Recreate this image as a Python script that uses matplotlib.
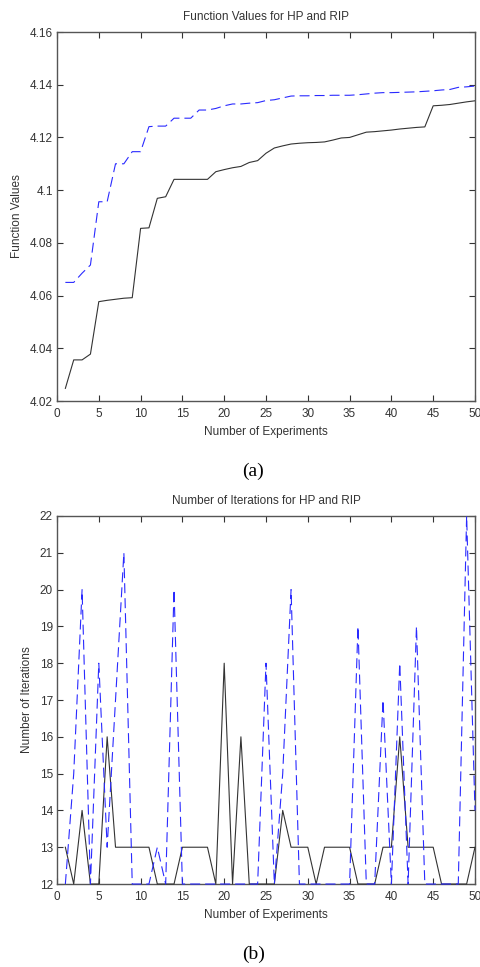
import numpy as np
import matplotlib
matplotlib.use("Agg")
import matplotlib.pyplot as plt
from matplotlib.ticker import FuncFormatter

#1. Data
experiments = np.arange(1, 51)

# (a) function values
hp_values = [4.0248, 4.0356, 4.0356, 4.0378, 4.0577, 4.0582, 4.0586, 4.0590, 4.0592, 4.0855,
             4.0857, 4.0969, 4.0975, 4.1041, 4.1041, 4.1041, 4.1041, 4.1041, 4.1070, 4.1078,
             4.1085, 4.1090, 4.1105, 4.1112, 4.1140, 4.1160, 4.1168, 4.1175, 4.1178, 4.1180,
             4.1181, 4.1183, 4.1190, 4.1198, 4.1200, 4.1210, 4.1220, 4.1222, 4.1225, 4.1228,
             4.1232, 4.1235, 4.1238, 4.1240, 4.1320, 4.1322, 4.1325, 4.1330, 4.1335, 4.1339]
rip_values = [4.0650, 4.0650, 4.0685, 4.0716, 4.0956, 4.0956, 4.1100, 4.1100, 4.1146, 4.1146,
              4.1241, 4.1243, 4.1243, 4.1273, 4.1273, 4.1273, 4.1304, 4.1304, 4.1310, 4.1320,
              4.1327, 4.1327, 4.1330, 4.1332, 4.1340, 4.1343, 4.1350, 4.1357, 4.1358, 4.1358,
              4.1359, 4.1359, 4.1360, 4.1360, 4.1360, 4.1362, 4.1365, 4.1368, 4.1370, 4.1370,
              4.1371, 4.1372, 4.1373, 4.1375, 4.1377, 4.1380, 4.1382, 4.1390, 4.1392, 4.1395]

# (b) number of iterations
hp_iters = [13, 12, 14, 12, 12, 16, 13, 13, 13, 13,
            13, 12, 12, 12, 13, 13, 13, 13, 12, 18,
            12, 16, 12, 12, 12, 12, 14, 13, 13, 13,
            12, 13, 13, 13, 13, 12, 12, 12, 13, 13,
            16, 13, 13, 13, 13, 12, 12, 12, 12, 13]
rip_iters = [12, 15, 20, 12, 18, 13, 17, 21, 12, 12,
             12, 13, 12, 20, 12, 12, 12, 12, 12, 12,
             12, 12, 12, 12, 18, 12, 15, 20, 12, 12,
             12, 12, 12, 12, 12, 19, 12, 12, 17, 12,
             18, 12, 19, 12, 12, 12, 12, 12, 22, 14]

titles = ["Function Values for HP and RIP", "Number of Iterations for HP and RIP"]
ylabels = ["Function Values", "Number of Iterations"]
xlabel = "Number of Experiments"
captions = ["(a)", "(b)"]

#2. Figure layout
plt.rcParams['font.family'] = ['Liberation Sans', 'DejaVu Sans']
fig = plt.figure(figsize=(4.8, 9.67), dpi=100)
ax1 = fig.add_axes([0.11875, 0.5853, 0.8708, 0.3816])
ax2 = fig.add_axes([0.11875, 0.0858, 0.8708, 0.3806])

dash = (0, (9, 4.5))
hp_color = '#333333'
rip_color = '#2a2aff'

#3. Plot both panels
ax1.plot(experiments, hp_values, color=hp_color, lw=0.8, zorder=3)
ax1.plot(experiments, rip_values, color=rip_color, lw=0.8, linestyle=dash, zorder=3)
ax1.set_ylim(4.02, 4.16)
ax1.set_yticks(np.arange(4.02, 4.1601, 0.02))
ax1.yaxis.set_major_formatter(FuncFormatter(lambda v, p: f"{round(v, 2):g}"))

ax2.plot(experiments, hp_iters, color=hp_color, lw=0.8, zorder=3, clip_on=False)
ax2.plot(experiments, rip_iters, color=rip_color, lw=0.8, linestyle=dash, zorder=3, clip_on=False)
ax2.set_ylim(12, 22)
ax2.set_yticks(np.arange(12, 23, 1))

for ax, t, yl, cap in zip([ax1, ax2], titles, ylabels, captions):
    ax.set_xlim(0, 50)
    ax.set_xticks(np.arange(0, 51, 5))
    ax.tick_params(direction='in', length=4, width=0.8, top=True, right=True,
                   labelsize=8.5, colors='#333333')
    ax.tick_params(axis='x', pad=5)
    ax.tick_params(axis='y', pad=3)
    for s in ax.spines.values():
        s.set_color('#555555')
        s.set_linewidth(1.0)
    ax.set_title(t, fontsize=8.5, color='#333333', pad=8.5)
    ax.set_xlabel(xlabel, fontsize=8.5, color='#333333', labelpad=4)
    ax.set_ylabel(yl, fontsize=8.5, color='#333333', labelpad=5)
    ax.text(0.47, -0.19, cap, transform=ax.transAxes, ha='center', va='center',
            fontsize=14, family='Liberation Serif')

fig.savefig("out.png", dpi=100)
